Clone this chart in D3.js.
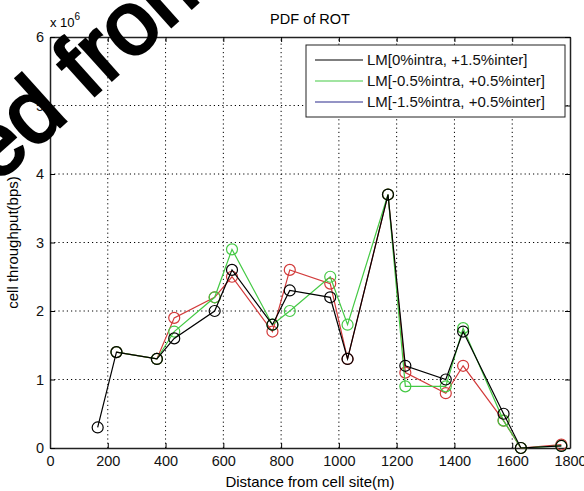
<!DOCTYPE html>
<html>
<head>
<meta charset="utf-8">
<script src="https://cdn.jsdelivr.net/npm/d3@7"></script>
<style>
  body { margin: 0; background: #fff; }
  svg text { font-family: "Liberation Sans", Arial, sans-serif; }
</style>
</head>
<body>
<div id="chart"></div>
<script>
var width = 584, height = 491;
var margin = {top: 37, right: 14, bottom: 43, left: 50};

// data
var distance = [165, 230, 370, 430, 570, 630, 770, 830, 970, 1030, 1170, 1230, 1370, 1430, 1570, 1630, 1770];
var black = [0.3, 1.4, 1.3, 1.6, 2.0, 2.6, 1.8, 2.3, 2.2, 1.3, 3.7, 1.2, 1.0, 1.7, 0.5, 0.0, 0.03];
var green = [null, 1.4, 1.3, 1.7, 2.2, 2.9, 1.8, 2.0, 2.5, 1.8, 3.7, 0.9, 0.9, 1.75, 0.4, 0.0, 0.03];
var red = [null, 1.4, 1.3, 1.9, 2.2, 2.5, 1.7, 2.6, 2.4, 1.3, 3.7, 1.1, 0.8, 1.2, 0.4, 0.0, 0.05];
var xTicks = [0, 200, 400, 600, 800, 1000, 1200, 1400, 1600, 1800];
var yTicks = [0, 1, 2, 3, 4, 5, 6];
var legendLabels = ["LM[0%intra, +1.5%inter]", "LM[-0.5%intra, +0.5%inter]", "LM[-1.5%intra, +0.5%inter]"];

var series = [
    {values: red, color: "#d23a3a"},
    {values: green, color: "#44c944"},
    {values: black, color: "#000"}
];
var legendColors = ["#000", "#44c944", "#2a2a8c"];

var svg = d3.select("#chart").append("svg")
    .attr("width", width)
    .attr("height", height);

var x = d3.scaleLinear().domain([0, 1800]).range([margin.left, width - margin.right]);
var y = d3.scaleLinear().domain([0, 6]).range([height - margin.bottom, margin.top]);

// dotted grid
svg.append("g").selectAll("line")
    .data(xTicks.slice(1, -1))
    .enter().append("line")
    .attr("x1", d => x(d)).attr("x2", d => x(d))
    .attr("y1", y(0)).attr("y2", y(6))
    .attr("stroke", "#000").attr("stroke-width", 1)
    .attr("stroke-dasharray", "1.2,3");
svg.append("g").selectAll("line")
    .data(yTicks.slice(1, -1))
    .enter().append("line")
    .attr("x1", x(0)).attr("x2", x(1800))
    .attr("y1", d => y(d)).attr("y2", d => y(d))
    .attr("stroke", "#000").attr("stroke-width", 1)
    .attr("stroke-dasharray", "1.2,3");

// axes with inward ticks on all four sides
var fs = "14.5px";
var fmt = d3.format("d");
svg.append("g")
    .attr("transform", "translate(0," + y(0) + ")")
    .call(d3.axisBottom(x).tickValues(xTicks).tickFormat(fmt).tickSizeInner(-5).tickSizeOuter(0).tickPadding(8))
    .call(g => g.selectAll("text").attr("font-size", fs).attr("fill", "#111"));
svg.append("g")
    .attr("transform", "translate(0," + y(6) + ")")
    .call(d3.axisTop(x).tickValues(xTicks).tickSizeInner(-5).tickSizeOuter(0).tickFormat(""));
svg.append("g")
    .attr("transform", "translate(" + x(0) + ",0)")
    .call(d3.axisLeft(y).tickValues(yTicks).tickFormat(fmt).tickSizeInner(-5).tickSizeOuter(0).tickPadding(6))
    .call(g => g.selectAll("text").attr("font-size", fs).attr("fill", "#111"));
svg.append("g")
    .attr("transform", "translate(" + x(1800) + ",0)")
    .call(d3.axisRight(y).tickValues(yTicks).tickSizeInner(-5).tickSizeOuter(0).tickFormat(""));
svg.selectAll(".domain").attr("stroke", "#222").attr("stroke-width", 1.5);

// series
var line = d3.line()
    .defined(d => d[1] != null)
    .x(d => x(d[0]))
    .y(d => y(d[1]));

series.forEach(function(s) {
    var pts = distance.map((d, i) => [d, s.values[i]]);
    svg.append("path")
        .datum(pts)
        .attr("fill", "none")
        .attr("stroke", s.color)
        .attr("stroke-width", 1.2)
        .attr("d", line);
    svg.append("g").selectAll("circle")
        .data(pts.filter(p => p[1] != null))
        .enter().append("circle")
        .attr("cx", p => x(p[0]))
        .attr("cy", p => y(p[1]))
        .attr("r", 5.5)
        .attr("fill", "none")
        .attr("stroke", s.color)
        .attr("stroke-width", 1.2);
});

// legend
var lg = svg.append("g").attr("transform", "translate(306,45)");
lg.append("rect")
    .attr("width", 259).attr("height", 72)
    .attr("fill", "#fff").attr("stroke", "#222").attr("stroke-width", 1);
legendLabels.forEach(function(t, i) {
    var yy = 15 + i * 21;
    lg.append("line")
        .attr("x1", 9).attr("x2", 57)
        .attr("y1", yy).attr("y2", yy)
        .attr("stroke", legendColors[i]).attr("stroke-width", 1.2);
    lg.append("text")
        .attr("x", 61).attr("y", yy + 5)
        .attr("font-size", "15px").attr("fill", "#111")
        .text(t);
});

// titles
svg.append("text")
    .attr("x", x(900)).attr("y", 24)
    .attr("text-anchor", "middle")
    .attr("font-size", "14.5px")
    .text("PDF of ROT");
svg.append("text")
    .attr("x", x(900)).attr("y", 487)
    .attr("text-anchor", "middle")
    .attr("font-size", "15px")
    .text("Distance from cell site(m)");
svg.append("text")
    .attr("transform", "translate(18," + y(3) + ") rotate(-90)")
    .attr("text-anchor", "middle")
    .attr("font-size", "15px")
    .text("cell throughput(bps)");
var ex = svg.append("text")
    .attr("x", 50).attr("y", 27)
    .attr("font-size", "13px");
ex.append("tspan").text("x 10");
ex.append("tspan").attr("dy", -7).attr("font-size", "10px").text("6");

// stamp text lying over the corner
svg.append("text")
    .attr("transform", "translate(-127,295) rotate(-42)")
    .attr("font-size", "90px")
    .attr("stroke", "#000")
    .attr("stroke-width", 3)
    .attr("fill", "#000")
    .text("Issued from");
</script>
</body>
</html>
